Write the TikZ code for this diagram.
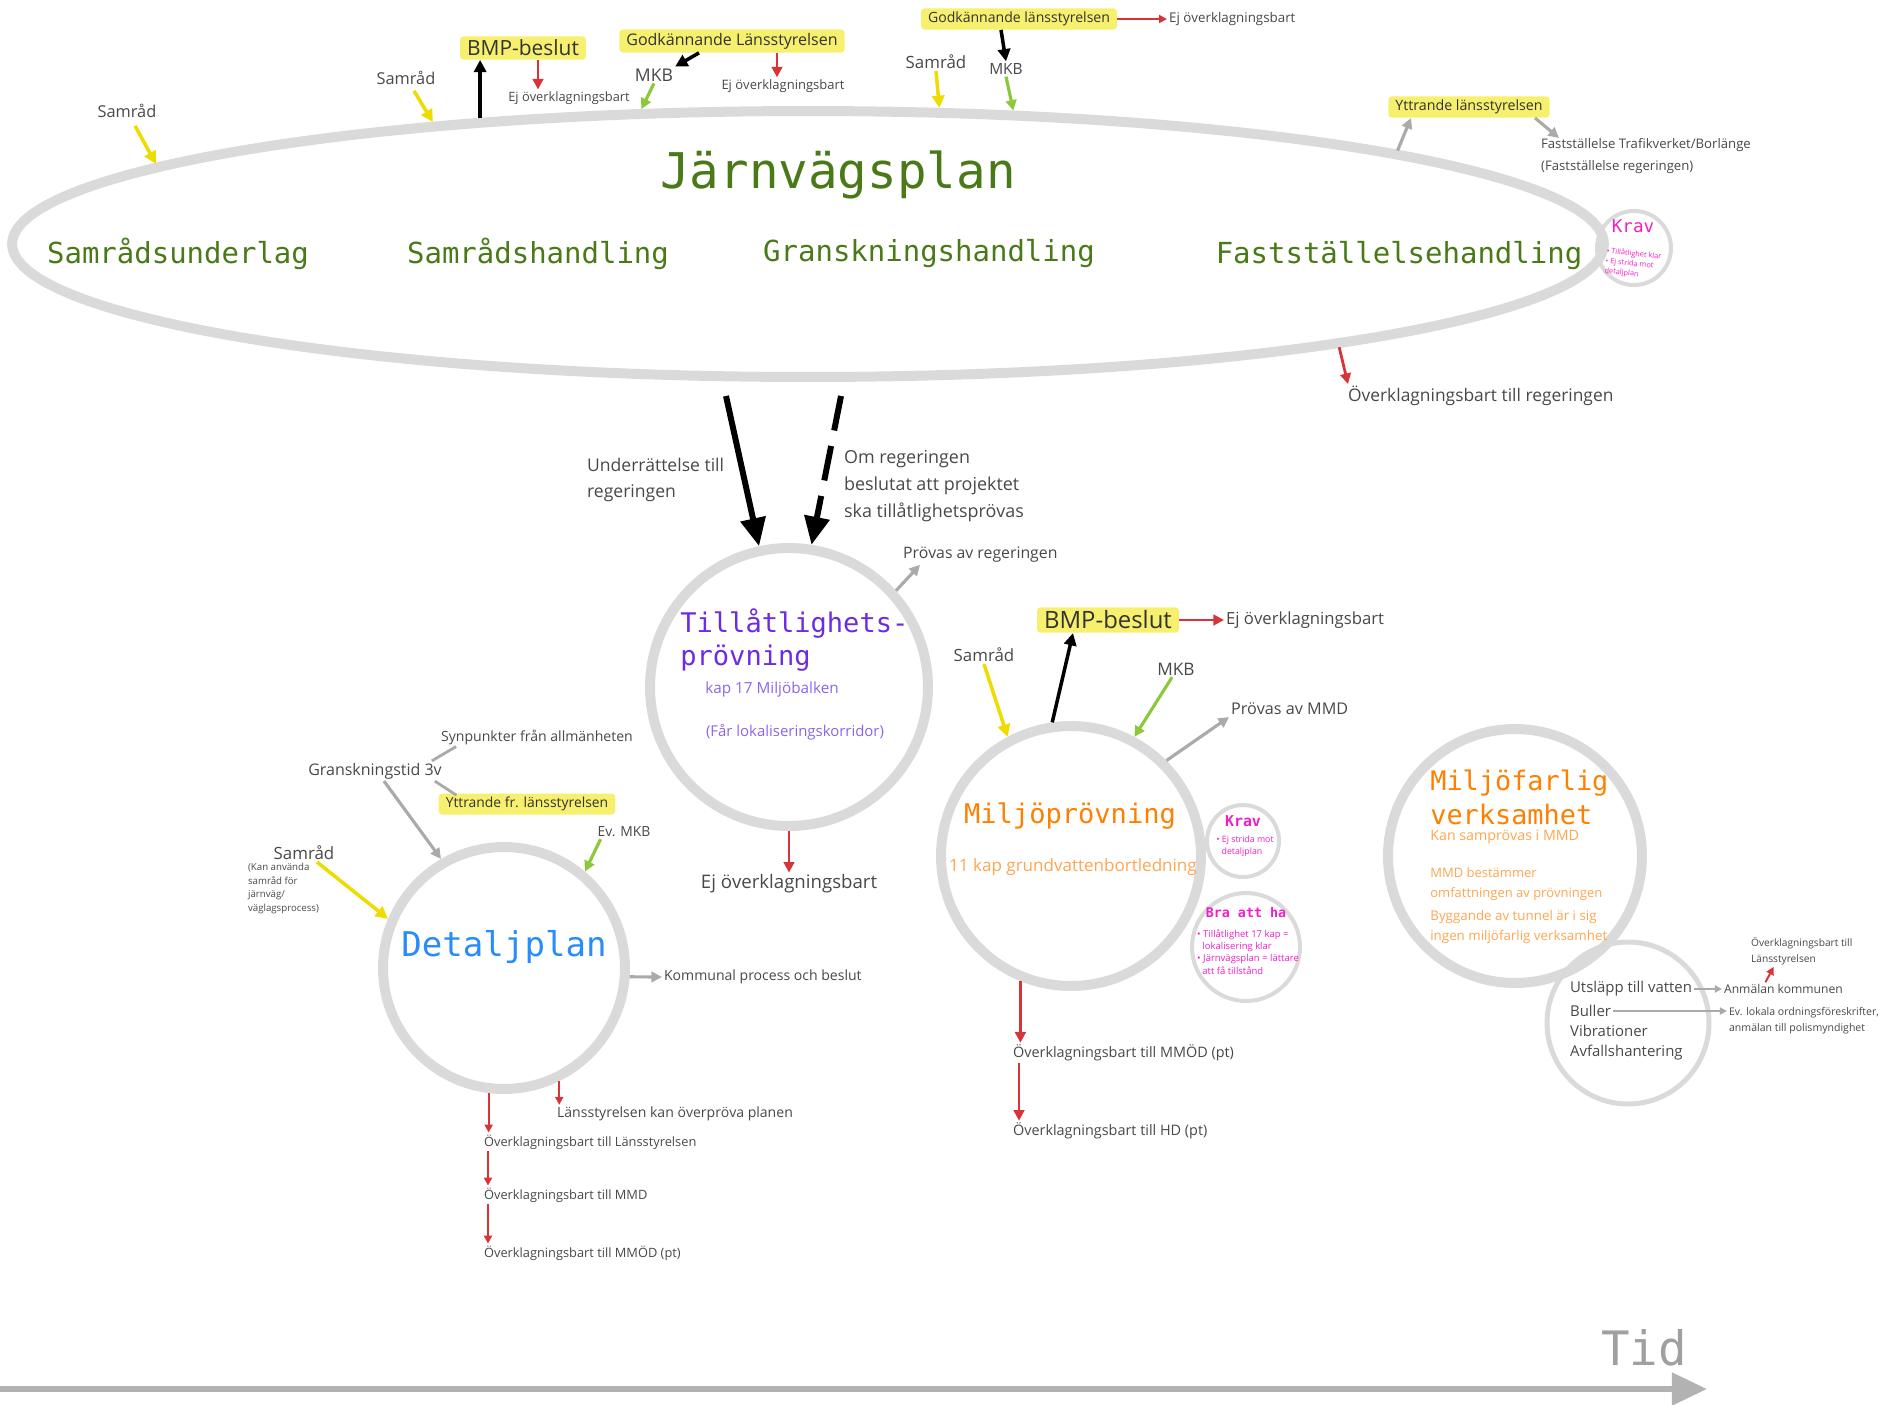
\documentclass[tikz,border=0pt]{standalone}
\usepackage{fontspec}
\setmainfont{Open Sans}
\setmonofont{DejaVu Sans Mono}
\usetikzlibrary{arrows.meta,calc,shapes.geometric}
\definecolor{ringgray}{RGB}{218,218,218}
\definecolor{textgray}{RGB}{72,72,72}
\definecolor{hlyellow}{RGB}{246,240,110}
\definecolor{arryellow}{RGB}{238,220,0}
\definecolor{arrgreen}{RGB}{140,200,60}
\definecolor{arrred}{RGB}{214,52,56}
\definecolor{arrgray}{RGB}{170,170,170}
\definecolor{jvpgreen}{RGB}{74,122,24}
\definecolor{tpurple}{RGB}{108,44,226}
\definecolor{tpurplelt}{RGB}{140,100,236}
\definecolor{morange}{RGB}{255,128,0}
\definecolor{morangelt}{RGB}{255,165,80}
\definecolor{dpblue}{RGB}{40,140,250}
\definecolor{kravpink}{RGB}{240,30,200}
\definecolor{tidgray}{RGB}{160,160,160}
\tikzset{
  ring/.style={circle, draw=ringgray, line width=0.2cm, inner sep=0pt},
  thinring/.style={circle, draw=ringgray, line width=0.08cm, inner sep=0pt},
  fs/.style 2 args={font=\fontsize{#1}{#2}\selectfont},
  lbl/.style={text=textgray, inner sep=1pt},
  hl/.style={fill=hlyellow, inner xsep=4pt, inner ysep=2pt, rounded corners=2pt, text=black!80},
  phase/.style={font=\fontsize{16.5pt}{20pt}\ttfamily, text=jvpgreen, inner sep=1pt},
  krav/.style={text=kravpink, align=left, inner sep=1pt},
  yarrow/.style={-{Triangle[length=7pt, width=7pt]}, draw=arryellow, line width=2pt},
  garrow/.style={-{Triangle[length=6pt, width=6pt]}, draw=arrgreen, line width=1.8pt},
  rarrow/.style={-{Triangle[length=6pt, width=6pt]}, draw=arrred, line width=1.6pt},
  rsmall/.style={-{Triangle[length=4.5pt, width=4.5pt]}, draw=arrred, line width=1.1pt},
  karrow/.style={-{Triangle[length=7pt, width=7pt]}, draw=black, line width=2pt},
  grarrow/.style={-{Triangle[length=6pt, width=6pt]}, draw=arrgray, line width=1.8pt},
  grsmall/.style={-{Triangle[length=4pt, width=4pt]}, draw=arrgray, line width=1pt},
  grline/.style={draw=arrgray, line width=1.6pt},
  bigarrow/.style={-{Triangle[length=16pt, width=14pt]}, draw=black, line width=3.4pt},
  timeaxis/.style={-{Triangle[length=20pt, width=18pt]}, draw=arrgray!90, line width=3.6pt}
}

\begin{document}
\begin{tikzpicture}[x=0.02cm,y=-0.02cm]
  \useasboundingbox (0,0) rectangle (1891,1404);

  % Järnvägsplan
  \node[ellipse, draw=ringgray, line width=0.2cm, minimum width=31.84cm, minimum height=5.32cm, inner sep=0pt] (jvp) at (808,244) {};
  \node[font=\fontsize{28pt}{33pt}\ttfamily, text=jvpgreen] (jvptitle) at (838,175) {Järnvägsplan};
  \node[phase] (suu) at (178,254) {Samrådsunderlag};
  \node[phase] (sah) at (538,254) {Samrådshandling};
  \node[phase] (grh) at (929,254) {Granskningshandling};
  \node[phase] (fsh) at (1399,256) {Fastställelsehandling};

  \node[thinring, minimum size=1.48cm] (kravA) at (1634,248) {};
  \node[krav, font=\fontsize{10pt}{12pt}\ttfamily, inner sep=0pt] (kravAtitle) at (1633,226) {Krav};
  \node[krav, fs={4.2pt}{5.6pt}, rotate=-6, inner sep=0pt] (kravAtext) at (1633,264) {• Tillåtlighet klar\\• Ej strida mot\\detaljplan};

  \node[lbl, fs={9.3pt}{11pt}] (samradA) at (127,111) {Samråd};
  \node[lbl, fs={9.3pt}{11pt}] (samradB) at (406,78) {Samråd};
  \node[hl, fs={11.9pt}{14pt}] (bmpA) at (523,48) {BMP-beslut};
  \node[lbl, fs={7.3pt}{9pt}] (ejA) at (569,98) {Ej överklagningsbart};
  \node[hl, fs={9.1pt}{11pt}] (godkA) at (732,41) {Godkännande Länsstyrelsen};
  \node[lbl, fs={10pt}{12pt}] (mkbA) at (654,75) {MKB};
  \node[lbl, fs={7.4pt}{9pt}] (ejB) at (783,86) {Ej överklagningsbart};
  \node[lbl, fs={9.6pt}{11pt}] (samradC) at (936,62) {Samråd};
  \node[hl, fs={8pt}{10pt}] (godkB) at (1019,19) {Godkännande länsstyrelsen};
  \node[lbl, fs={7.6pt}{9pt}, anchor=west] (ejC) at (1167,19) {Ej överklagningsbart};
  \node[lbl, fs={8.8pt}{10pt}] (mkbB) at (1006,69) {MKB};
  \node[hl, fs={8.1pt}{10pt}] (yttA) at (1469,107) {Yttrande länsstyrelsen};
  \node[lbl, fs={7.5pt}{12.5pt}, anchor=north west, align=left] (fastA) at (1539,136) {Fastställelse Trafikverket/Borlänge\\(Fastställelse regeringen)};
  \node[lbl, fs={9.9pt}{12pt}, anchor=west] (ovreg) at (1346,396) {Överklagningsbart till regeringen};

  \draw[yarrow] ($(samradA.south)+(8,6)$) -- (jvp.173.3);
  \draw[yarrow] ($(samradB.south)+(8,4)$) -- (jvp.162);
  \draw[karrow] (jvp.159) -- (jvp.159 |- bmpA.south);
  \draw[rarrow] ($(bmpA.south)+(15,0)$) -- ($(bmpA.south |- ejA.north)+(15,0)$);
  \draw[karrow] ($(godkA.south)+(-33,0)$) -- (mkbA.north east);
  \draw[garrow] (mkbA.south) -- (jvp.141);
  \draw[rarrow] ($(godkA.south)+(45,0)$) -- ($(godkA.south |- ejB.north)+(45,0)$);
  \draw[yarrow] (samradC.south) -- (jvp.46);
  \draw[rsmall] (godkB.east) -- (ejC.west);
  \draw[karrow] ($(godkB.south)+(-18,0)$) -- (mkbB.north);
  \draw[garrow] (mkbB.south) -- (jvp.33);
  \draw[grarrow] (jvp.9) -- ($(yttA.south)+(-58,0)$);
  \draw[grarrow] ($(yttA.south)+(66,0)$) -- ($(fastA.north west)+(20,2)$);
  \draw[rarrow] (jvp.-11) -- ($(ovreg.north west)+(2,0)$);

  % Tillåtlighetsprövning
  \node[ring, minimum size=5.56cm] (tp) at (789,687) {};
  \node[font=\fontsize{15.4pt}{18.8pt}\ttfamily, text=tpurple, align=left, anchor=west, inner sep=0pt] (tptitle) at (680,640) {Tillåtlighets-\\prövning};
  \node[fs={8.7pt}{10pt}, text=tpurplelt] (tpkap) at (772,690) {kap 17 Miljöbalken};
  \node[fs={8.5pt}{10pt}, text=tpurplelt] (tpfar) at (795,732) {(Får lokaliseringskorridor)};
  \node[lbl, fs={10pt}{14.8pt}, anchor=west, align=left] (undr) at (585,480) {Underrättelse till\\regeringen};
  \node[lbl, fs={10.2pt}{15.4pt}, anchor=west, align=left] (omreg) at (842,486) {Om regeringen\\beslutat att projektet\\ska tillåtlighetsprövas};
  \node[lbl, fs={9pt}{11pt}, anchor=west] (provreg) at (901,555) {Prövas av regeringen};
  \node[lbl, fs={10.6pt}{12pt}] (ejD) at (789,884) {Ej överklagningsbart};

  \draw[bigarrow] ($(jvp.south)+(-82,14)$) -- (tp.102);
  \draw[bigarrow, dash pattern=on 20pt off 9pt] ($(jvp.south)+(33,14)$) -- (tp.81);
  \draw[grarrow] (tp.42) -- ($(provreg.south west)+(19,0)$);
  \draw[rarrow] (tp.south) -- (ejD.north);

  % Miljöprövning
  \node[ring, minimum size=5.2cm] (mp) at (1071,856) {};
  \node[font=\fontsize{15.4pt}{18pt}\ttfamily, text=morange] (mptitle) at (1070,816) {Miljöprövning};
  \node[fs={9.7pt}{11pt}, text=morangelt] (mpkap) at (1073,867) {11 kap grundvattenbortledning};
  \node[lbl, fs={9.6pt}{11pt}] (samradD) at (984,655) {Samråd};
  \node[hl, fs={13.6pt}{16pt}] (bmpB) at (1108,620) {BMP-beslut};
  \node[lbl, fs={9.5pt}{11pt}, anchor=west] (ejE) at (1224,620) {Ej överklagningsbart};
  \node[lbl, fs={9.8pt}{11pt}] (mkbC) at (1176,669) {MKB};
  \node[lbl, fs={9.2pt}{11pt}, anchor=west] (provmmd) at (1229,709) {Prövas av MMD};

  \node[thinring, minimum size=1.44cm] (kravB) at (1243,841) {};
  \node[krav, font=\fontsize{8.5pt}{10pt}\ttfamily\bfseries] (kravBtitle) at (1243,821) {Krav};
  \node[krav, fs={5pt}{6.6pt}] (kravBtext) at (1245,846) {• Ej strida mot\\\hspace*{3pt}detaljplan};
  \node[thinring, minimum size=2.16cm] (bra) at (1246,947) {};
  \node[krav, font=\fontsize{7.6pt}{9pt}\ttfamily\bfseries] (bratitle) at (1246,913) {Bra att ha};
  \node[krav, fs={5.4pt}{7pt}] (bratext) at (1248,952) {• Tillåtlighet 17 kap =\\\hspace*{3pt}lokalisering klar\\• Järnvägsplan = lättare\\\hspace*{3pt}att få tillstånd};

  \node[lbl, fs={8.2pt}{10pt}, anchor=west] (ovmmodA) at (1011,1053) {Överklagningsbart till MMÖD (pt)};
  \node[lbl, fs={8.2pt}{10pt}, anchor=west] (ovhd) at (1011,1131) {Överklagningsbart till HD (pt)};

  \draw[yarrow] (samradD.south) -- (mp.118);
  \draw[karrow] (mp.98) -- ($(bmpB.south)+(-35,0)$);
  \draw[rarrow] (bmpB.east) -- (ejE.west);
  \draw[garrow] ($(mkbC.south)+(-4,0)$) -- (mp.62);
  \draw[grarrow] (mp.45) -- (provmmd.south west);
  \draw[rarrow] (mp.248) -- (mp.248 |- ovmmodA.north);
  \draw[rarrow] ($(ovmmodA.south west)+(8,0)$) -- ($(ovmmodA.south west |- ovhd.north)+(8,0)$);

  % Detaljplan
  \node[ring, minimum size=4.84cm] (dp) at (504,968) {};
  \node[font=\fontsize{19.4pt}{23pt}\ttfamily, text=dpblue] (dptitle) at (504,947) {Detaljplan};
  \node[lbl, fs={9.6pt}{11pt}] (samradE) at (304,853) {Samråd};
  \node[lbl, fs={5.5pt}{7.8pt}, anchor=north west, align=left] (kanE) at (246,861) {(Kan använda\\samråd för\\järnväg/\\väglagsprocess)};
  \node[lbl, fs={9.1pt}{11pt}] (gt) at (375,771) {Granskningstid 3v};
  \node[lbl, fs={8pt}{10pt}] (synp) at (537,737) {Synpunkter från allmänheten};
  \node[hl, fs={7.9pt}{10pt}] (yttB) at (527,804) {Yttrande fr. länsstyrelsen};
  \node[lbl, fs={7.9pt}{10pt}] (evmkb) at (624,832) {Ev. MKB};
  \node[lbl, fs={8pt}{10pt}, anchor=west] (komm) at (662,977) {Kommunal process och beslut};
  \node[lbl, fs={8pt}{10pt}, anchor=west] (lkan) at (555,1114) {Länsstyrelsen kan överpröva planen};
  \node[lbl, fs={7.3pt}{9pt}, anchor=west] (ovl) at (482,1142) {Överklagningsbart till Länsstyrelsen};
  \node[lbl, fs={7.3pt}{9pt}, anchor=west] (ovmmd) at (482,1195) {Överklagningsbart till MMD};
  \node[lbl, fs={7.3pt}{9pt}, anchor=west] (ovmmodB) at (482,1253) {Överklagningsbart till MMÖD (pt)};

  \draw[yarrow] ($(samradE.south)+(13,0)$) -- (dp.157);
  \draw[grarrow] ($(gt.south)+(9,0)$) -- (dp.120);
  \draw[grline] ($(gt.north east)+(-12,0)$) -- ($(synp.south west)+(17,0)$);
  \draw[grline] ($(gt.south east)+(-9,0)$) -- ($(yttB.north west)+(18,2)$);
  \draw[garrow] ($(evmkb.south west)+(5,0)$) -- (dp.50);
  \draw[grarrow] (dp.-4) -- (komm.west);
  \draw[rsmall] (dp.296) -- (dp.296 |- lkan.north);
  \draw[rsmall] (dp.263) -- (dp.263 |- ovl.north);
  \draw[rsmall] ($(ovl.south west)+(6,0)$) -- ($(ovl.south west |- ovmmd.north)+(6,0)$);
  \draw[rsmall] ($(ovmmd.south west)+(6,0)$) -- ($(ovmmd.south west |- ovmmodB.north)+(6,0)$);

  % Miljöfarlig verksamhet
  \node[ring, minimum size=5.08cm] (mv) at (1515,856) {};
  \node[font=\fontsize{15.3pt}{19.3pt}\ttfamily, text=morange, align=left, anchor=west, inner sep=0pt] (mvtitle) at (1430,797) {Miljöfarlig\\verksamhet};
  \node[fs={8.1pt}{10pt}, text=morangelt, anchor=west, inner sep=0pt] (mvsam) at (1430,837) {Kan samprövas i MMD};
  \node[fs={7.4pt}{11pt}, text=morangelt, anchor=west, align=left, inner sep=0pt] (mvbest) at (1430,884) {MMD bestämmer\\omfattningen av prövningen};
  \node[fs={7.6pt}{11pt}, text=morangelt, anchor=west, align=left, inner sep=0pt] (mvbygg) at (1430,927) {Byggande av tunnel är i sig\\ingen miljöfarlig verksamhet};

  \node[circle, draw=ringgray, line width=0.1cm, inner sep=0pt, minimum size=3.24cm] (ut) at (1628,1023) {};
  \node[lbl, fs={8.5pt}{10pt}, anchor=west] (utsl) at (1568,989) {Utsläpp till vatten};
  \node[lbl, fs={8.5pt}{10pt}, anchor=west] (buller) at (1568,1011) {Buller};
  \node[lbl, fs={8.5pt}{10pt}, anchor=west] (vibr) at (1568,1031) {Vibrationer};
  \node[lbl, fs={8.5pt}{10pt}, anchor=west] (avf) at (1568,1053) {Avfallshantering};
  \node[lbl, fs={6.9pt}{8pt}, anchor=west] (anm) at (1722,989) {Anmälan kommunen};
  \node[lbl, fs={6pt}{9pt}, anchor=west, align=left] (evlok) at (1727,1021) {Ev. lokala ordningsföreskrifter,\\anmälan till polismyndighet};
  \node[lbl, fs={5.8pt}{9pt}, anchor=west, align=left] (ovls) at (1749,951) {Överklagningsbart till\\Länsstyrelsen};

  \draw[grsmall] (utsl.east) -- (anm.west);
  \draw[grsmall] (buller.east) -- (buller.east -| evlok.west);
  \draw[rsmall] ($(anm.north)+(-18,0)$) -- ($(ovls.south)+(-28,0)$);

  % Tid
  \coordinate (tidstart) at (0,1389);
  \coordinate (tidend) at (1707,1389);
  \draw[timeaxis] (tidstart) -- (tidend);
  \node[font=\fontsize{27pt}{32pt}\ttfamily, text=tidgray] (tid) at (1644,1348) {Tid};
\end{tikzpicture}
\end{document}
